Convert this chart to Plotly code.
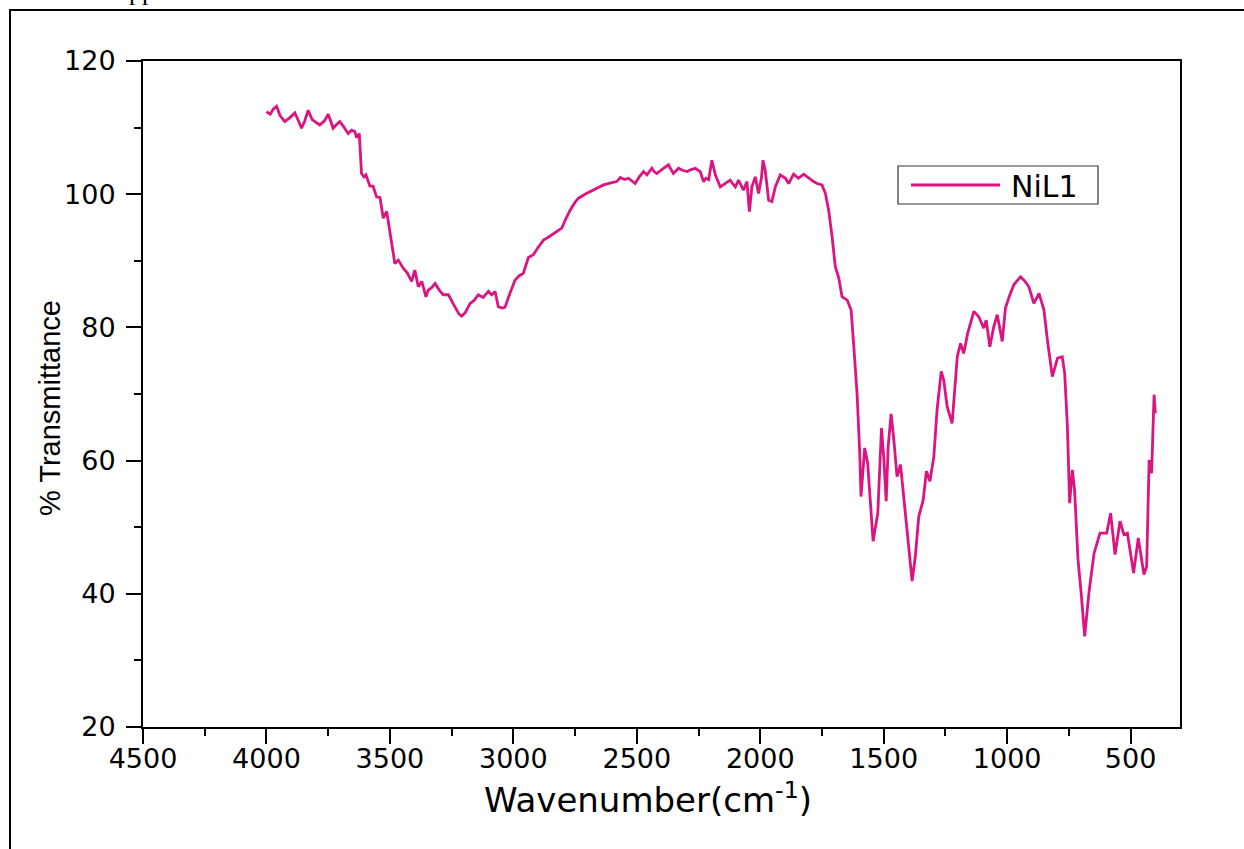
import plotly.graph_objects as go

# FTIR spectrum of the NiL1 complex
wavenumber = [
    4000, 3985, 3972, 3959, 3945, 3926, 3905, 3885, 3870, 3858, 3845, 3831, 3815, 3800,
    3784, 3765, 3750, 3740, 3730, 3715, 3703, 3685, 3669, 3655, 3642, 3635, 3624, 3615,
    3605, 3597, 3581, 3568, 3554, 3540, 3527, 3513, 3500, 3480, 3466, 3446, 3430, 3412,
    3399, 3385, 3371, 3354, 3345, 3330, 3317, 3300, 3284, 3263, 3240, 3220, 3209, 3195,
    3175, 3160, 3142, 3122, 3101, 3088, 3074, 3061, 3045, 3034, 3015, 2993, 2975, 2960,
    2939, 2919, 2900, 2878, 2860, 2838, 2820, 2804, 2785, 2770, 2750, 2736, 2710, 2689,
    2660, 2635, 2605, 2581, 2567, 2550, 2534, 2520, 2507, 2490, 2473, 2459, 2446, 2439,
    2430, 2419, 2395, 2372, 2352, 2331, 2315, 2297, 2280, 2263, 2243, 2230, 2220, 2209,
    2196, 2182, 2162, 2142, 2122, 2110, 2101, 2088, 2068, 2054, 2044, 2034, 2020, 2007,
    1995, 1989, 1980, 1966, 1953, 1939, 1919, 1898, 1885, 1865, 1845, 1824, 1804, 1784,
    1770, 1750, 1736, 1723, 1709, 1696, 1682, 1669, 1648, 1632, 1622, 1608, 1597, 1592,
    1585, 1577, 1565, 1543, 1524, 1509, 1500, 1490, 1482, 1470, 1459, 1446, 1432, 1412,
    1385, 1372, 1358, 1340, 1327, 1313, 1297, 1284, 1267, 1257, 1243, 1223, 1213, 1202,
    1189, 1176, 1160, 1135, 1115, 1095, 1085, 1070, 1055, 1040, 1020, 1007, 990, 973,
    946, 930, 912, 892, 871, 851, 837, 817, 796, 777, 767, 756, 747, 736,
    727, 713, 700, 686, 669, 648, 624, 597, 581, 563, 543, 527, 513, 488,
    469, 446, 435, 425, 415, 405, 400,
]
transmittance = [
    112.4, 112.0, 112.8, 113.2, 111.8, 110.9, 111.5, 112.2, 111.0, 109.9, 111.0, 112.6, 111.2, 110.8,
    110.4, 111.0, 112.0, 111.0, 109.9, 110.5, 110.9, 110.0, 109.1, 109.6, 109.4, 108.5, 109.1, 103.1,
    102.6, 102.9, 101.2, 101.2, 99.6, 99.5, 96.4, 97.4, 94.1, 89.6, 90.1, 88.9, 88.2, 86.9,
    88.6, 86.1, 86.9, 84.6, 85.6, 86.0, 86.6, 85.6, 84.9, 84.9, 83.3, 82.0, 81.7, 82.2,
    83.6, 84.0, 84.9, 84.5, 85.4, 84.9, 85.4, 83.1, 82.9, 83.0, 85.0, 87.1, 87.8, 88.1,
    90.5, 90.9, 92.0, 93.1, 93.5, 94.1, 94.5, 94.9, 96.5, 97.6, 98.8, 99.4, 100.0, 100.4,
    100.9, 101.4, 101.7, 101.9, 102.5, 102.2, 102.4, 102.0, 101.6, 102.6, 103.4, 102.9, 103.6, 103.9,
    103.4, 103.1, 103.8, 104.4, 103.1, 103.9, 103.6, 103.4, 103.7, 103.9, 103.4, 101.9, 102.4, 102.2,
    105.1, 102.9, 101.1, 101.6, 102.1, 101.5, 101.1, 102.1, 100.6, 101.9, 97.4, 101.1, 102.6, 100.1,
    102.5, 105.1, 103.6, 99.1, 98.9, 101.1, 102.9, 102.4, 101.6, 103.0, 102.4, 103.0, 102.4, 101.9,
    101.6, 101.4, 100.1, 97.6, 93.6, 89.1, 87.4, 84.6, 84.1, 82.6, 77.6, 70.1, 61.1, 54.6,
    58.0, 61.9, 59.6, 47.9, 52.1, 64.9, 60.6, 53.9, 62.1, 67.0, 63.1, 57.6, 59.4, 51.6,
    41.9, 45.6, 51.6, 54.1, 58.4, 56.9, 60.6, 67.6, 73.4, 72.1, 68.1, 65.6, 70.1, 75.6,
    77.6, 76.1, 79.1, 82.4, 81.6, 79.9, 81.1, 77.1, 80.0, 81.9, 77.9, 82.9, 84.8, 86.4,
    87.6, 87.0, 86.1, 83.6, 85.1, 82.6, 78.1, 72.6, 75.4, 75.6, 73.1, 65.1, 53.6, 58.6,
    55.6, 45.1, 40.0, 33.6, 40.1, 46.1, 49.1, 49.1, 52.1, 45.9, 50.9, 48.9, 49.1, 43.1,
    48.4, 42.9, 44.1, 60.1, 58.1, 69.9, 67.1,
]
series_name = "NiL1"

x_ticks = [500, 1000, 1500, 2000, 2500, 3000, 3500, 4000, 4500]
y_ticks = [20, 40, 60, 80, 100, 120]

LINE_COLOR = "#DC1482"
W, H = 1244, 849
ML, MR, MT, MB = 143, 64, 61, 122
PW, PH = W - ML - MR, H - MT - MB


def px_x(px):
    return (px - ML) / PW


def px_y(py):
    return (H - MB - py) / PH


fig = go.Figure()
fig.add_trace(go.Scatter(
    x=wavenumber, y=transmittance, mode="lines", name=series_name,
    line=dict(color=LINE_COLOR, width=2.8), showlegend=False,
))

tick_font = dict(family="DejaVu Sans, Liberation Sans, Arial", size=27, color="black")
wide_font = "DejaVu Sans, Liberation Sans, Arial"

fig.update_xaxes(
    range=[4500, 300], tickvals=x_ticks, ticktext=[str(v) for v in x_ticks],
    showgrid=False, zeroline=False, showline=True, linecolor="black", linewidth=2,
    mirror=True, ticks="outside", ticklen=15, tickwidth=2, tickcolor="black",
    minor=dict(ticks="outside", ticklen=7, tickwidth=2, tickcolor="black",
               tickvals=[750, 1250, 1750, 2250, 2750, 3250, 3750, 4250]),
    tickfont=tick_font, ticklabelstandoff=-8,
)
fig.update_yaxes(
    range=[20, 120], tickvals=y_ticks,
    showgrid=False, zeroline=False, showline=True, linecolor="black", linewidth=2,
    mirror=True, ticks="outside", ticklen=15, tickwidth=2, tickcolor="black",
    minor=dict(ticks="outside", ticklen=7, tickwidth=2, tickcolor="black",
               tickvals=[30, 50, 70, 90, 110]),
    tickfont=tick_font, ticklabelstandoff=5,
)

shapes = [
    # outer frame of the figure panel
    dict(type="rect", xref="paper", yref="paper",
         x0=px_x(10), x1=px_x(1260), y0=px_y(870), y1=px_y(10),
         line=dict(color="black", width=2), layer="below"),
    # legend box
    dict(type="rect", xref="paper", yref="paper",
         x0=px_x(898), x1=px_x(1098), y0=px_y(204), y1=px_y(166),
         line=dict(color="#333333", width=1.2), fillcolor="white"),
    # legend line sample
    dict(type="line", xref="paper", yref="paper",
         x0=px_x(911), x1=px_x(1000), y0=px_y(185), y1=px_y(185),
         line=dict(color=LINE_COLOR, width=2.8)),
]

annotations = [
    dict(text=series_name, xref="paper", yref="paper", x=px_x(1009), y=px_y(186),
         xanchor="left", yanchor="middle", showarrow=False,
         font=dict(family=wide_font, size=30, color="black")),
    dict(text="Wavenumber(cm<sup>-1</sup>)", xref="paper", yref="paper",
         x=px_x(648), y=px_y(798), xanchor="center", yanchor="middle",
         showarrow=False, font=dict(family=wide_font, size=34, color="black")),
    dict(text="% Transmittance", xref="paper", yref="paper", textangle=-90,
         x=px_x(50), y=px_y(408), xanchor="center", yanchor="middle",
         showarrow=False, font=dict(family="Liberation Sans, Arial", size=29, color="black")),
    dict(text="pp", xref="paper", yref="paper", x=px_x(142), y=px_y(-8),
         xanchor="center", yanchor="middle", showarrow=False,
         font=dict(family="Liberation Serif", size=26, color="black")),
]

fig.update_layout(
    width=W, height=H, margin=dict(l=ML, r=MR, t=MT, b=MB, pad=0),
    paper_bgcolor="white", plot_bgcolor="white",
    shapes=shapes, annotations=annotations, showlegend=False,
)

fig.write_html("out.html")
